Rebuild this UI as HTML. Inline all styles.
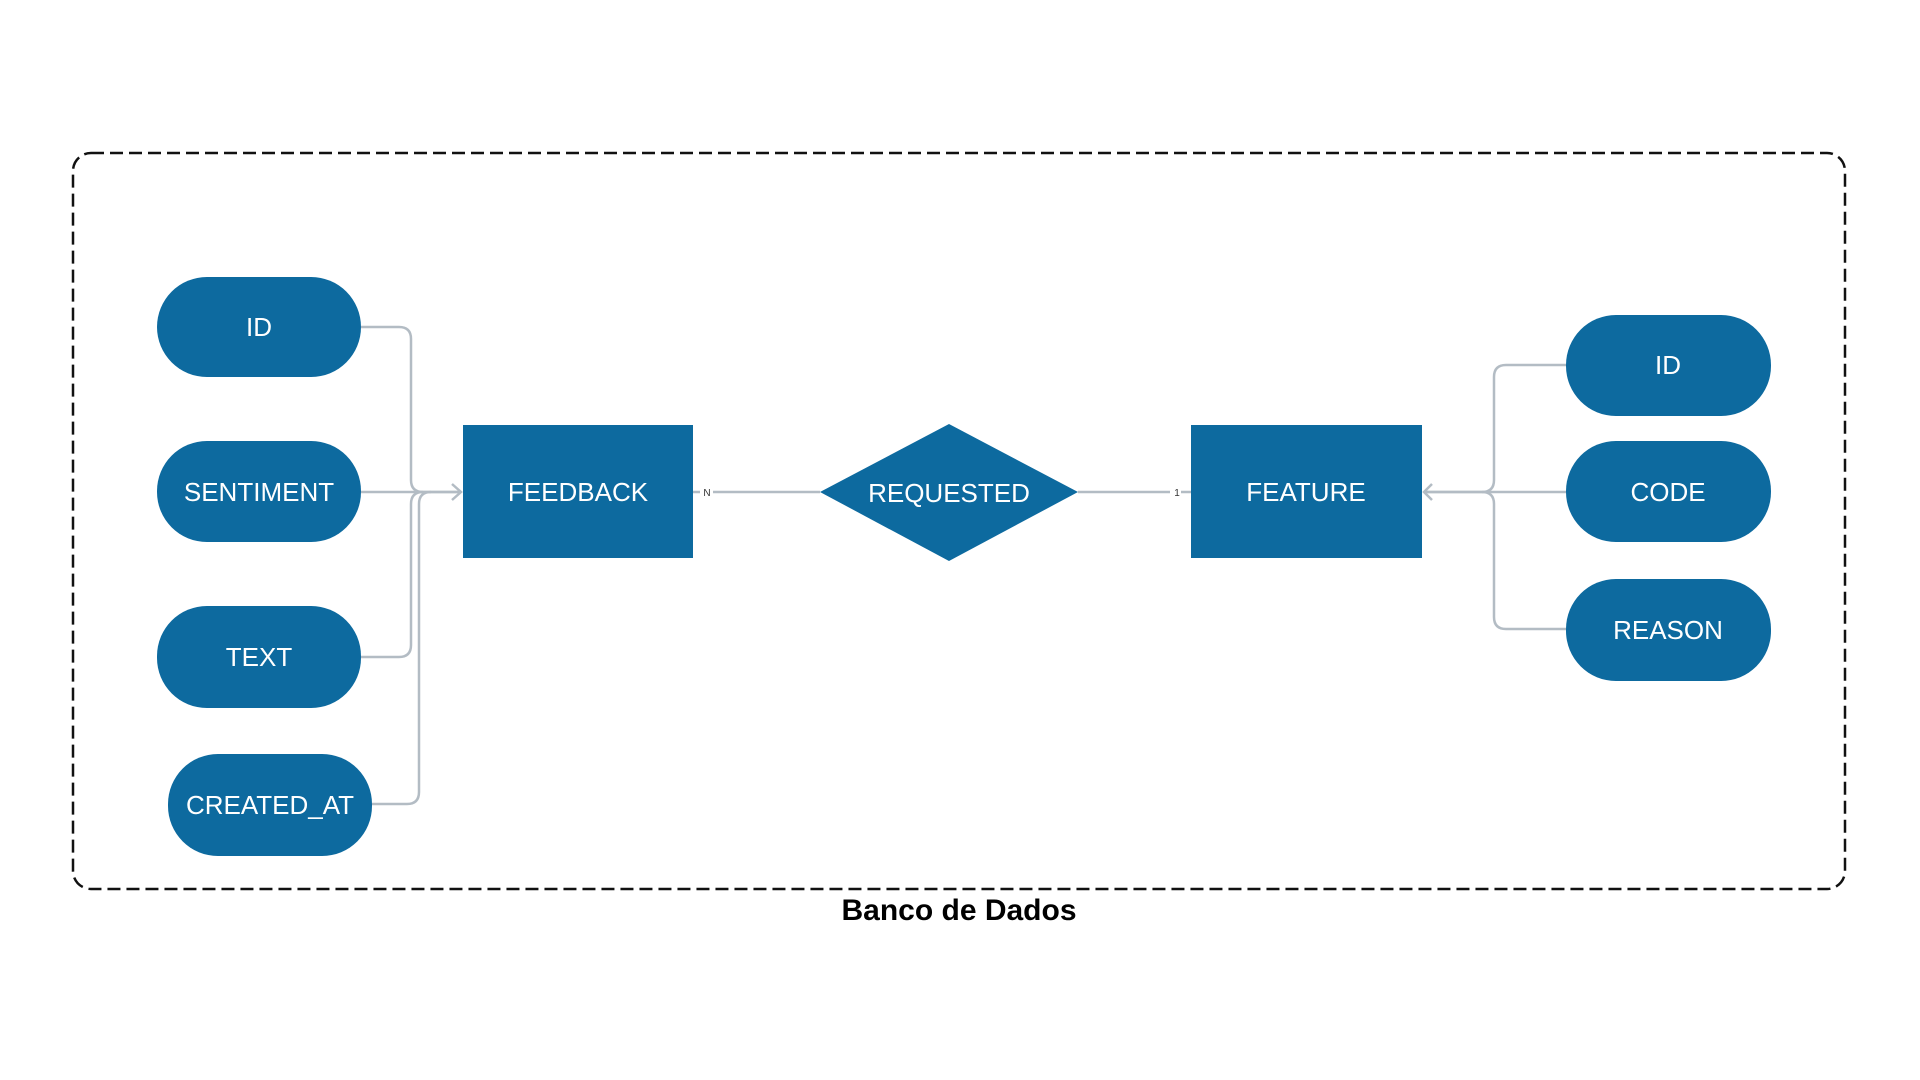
<!DOCTYPE html>
<html><head><meta charset="utf-8"><style>
html,body{margin:0;padding:0;background:#fff;}
svg{display:block}
text{font-family:"Liberation Sans",sans-serif;}
</style></head><body>
<svg width="1920" height="1080" viewBox="0 0 1920 1080" xmlns="http://www.w3.org/2000/svg">
<rect x="73" y="153" width="1772" height="736" rx="18" fill="none" stroke="#111" stroke-width="2.5" stroke-dasharray="13,6"/>
<text x="959" y="920" font-size="30" font-weight="bold" text-anchor="middle" fill="#000">Banco de Dados</text>
<g fill="none" stroke="#b3bcc4" stroke-width="2.5">
<path d="M361 327 H399 Q411 327 411 339 V480 Q411 492 423 492 H461"/>
<path d="M361 492 H461"/>
<path d="M361 657 H399 Q411 657 411 645 V504 Q411 492 423 492"/>
<path d="M372 804 H407 Q419 804 419 792 V504 Q419 492 431 492"/>
<path d="M452 484 L461 492 L452 500"/>
<path d="M693 492 H700 M713 492 H820"/>
<path d="M1078 492 H1170 M1181 492 H1191"/>
<path d="M1566 365 H1506 Q1494 365 1494 377 V480 Q1494 492 1482 492 H1424"/>
<path d="M1566 492 H1424"/>
<path d="M1566 629 H1506 Q1494 629 1494 617 V504 Q1494 492 1482 492"/>
<path d="M1432 484 L1424 492 L1432 500"/>
</g>
<text x="707" y="496" font-size="10" text-anchor="middle" fill="#333">N</text>
<text x="1177" y="496" font-size="10" text-anchor="middle" fill="#333">1</text>
<g fill="#0d6a9f">
<rect x="157" y="277" width="204" height="100" rx="50"/>
<rect x="157" y="441" width="204" height="101" rx="50"/>
<rect x="157" y="606" width="204" height="102" rx="50"/>
<rect x="168" y="754" width="204" height="102" rx="50"/>
<rect x="463" y="425" width="230" height="133"/>
<polygon points="820,492 949,424 1078,492 949,561"/>
<rect x="1191" y="425" width="231" height="133"/>
<rect x="1566" y="315" width="205" height="101" rx="50"/>
<rect x="1566" y="441" width="205" height="101" rx="50"/>
<rect x="1566" y="579" width="205" height="102" rx="50"/>
</g>
<g fill="#fff" font-size="26" text-anchor="middle">
<text x="259" y="501">SENTIMENT</text>
<text x="259" y="336">ID</text>
<text x="259" y="666">TEXT</text>
<text x="270" y="814">CREATED_AT</text>
<text x="578" y="501">FEEDBACK</text>
<text x="949" y="502">REQUESTED</text>
<text x="1306" y="501">FEATURE</text>
<text x="1668" y="374">ID</text>
<text x="1668" y="501">CODE</text>
<text x="1668" y="639">REASON</text>
</g>
</svg>
</body></html>
